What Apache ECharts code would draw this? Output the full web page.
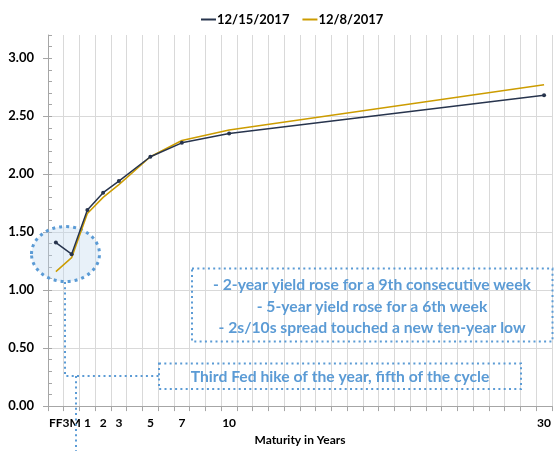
<!DOCTYPE html>
<html>
<head>
<meta charset="utf-8">
<script src="https://cdn.jsdelivr.net/npm/echarts@6/dist/echarts.min.js"></script>
<style>
html,body{margin:0;padding:0;background:#fff;}
#chart{width:554px;height:451px;}
</style>
</head>
<body>
<div id="chart"></div>
<script>
// Category slots along the x axis (one slot per year after FF and 3M)
const categories = ['FF','3M','1','2','3','4','5','6','7','8','9','10','11','12','13','14','15','16','17','18','19','20','21','22','23','24','25','26','27','28','29','30'];
const shownLabels = ['FF','3M','1','2','3','5','7','10','30'];
// Observed maturities and yields
const maturities = ['FF','3M','1','2','3','5','7','10','30'];
const yields_2017_12_15 = [1.41, 1.31, 1.69, 1.84, 1.94, 2.15, 2.27, 2.35, 2.68];
const yields_2017_12_08 = [1.16, 1.28, 1.66, 1.80, 1.91, 2.15, 2.29, 2.38, 2.77];
const seriesNames = ['12/15/2017', '12/8/2017'];
const yTickLabels = [0, 0.5, 1.0, 1.5, 2.0, 2.5, 3.0];
const annotationLines = [
  '- 2-year yield rose for a 9th consecutive week',
  '- 5-year yield rose for a 6th week',
  '- 2s/10s spread touched a new ten-year low'
];
const annotationFed = 'Third Fed hike of the year, fifth of the cycle';

function toSlots(vals) {
  const out = categories.map(() => null);
  maturities.forEach((m, i) => { out[categories.indexOf(m)] = vals[i]; });
  return out;
}

const FONT = 'Lato, "Liberation Sans", sans-serif';
const BLUE = '#5b9bd5';
const dotted = { stroke: BLUE, lineWidth: 2, lineDash: [2, 3.3] };
function txt(x, y, s) {
  return { type: 'text', z: 5, x: x, y: y,
    style: { text: s, fill: BLUE, fontFamily: FONT, fontWeight: 'bold', fontSize: 15.7, align: 'center', verticalAlign: 'middle' } };
}

const chart = echarts.init(document.getElementById('chart'), null, { renderer: 'canvas' });
chart.setOption({
  animation: false,
  backgroundColor: '#ffffff',
  textStyle: { fontFamily: FONT },
  legend: {
    left: 196, top: 8,
    itemGap: 13, itemWidth: 15, itemHeight: 2,
    icon: 'rect',
    textStyle: { fontFamily: FONT, fontWeight: 'bold', fontSize: 13, color: '#000', padding: [0, 0, 0, -4] },
    data: seriesNames
  },
  grid: { left: 48, right: 0, top: 35, bottom: 44, containLabel: false },
  xAxis: {
    type: 'category',
    data: categories,
    boundaryGap: true,
    name: 'Maturity in Years',
    nameLocation: 'middle',
    nameGap: 27,
    nameTextStyle: { fontFamily: FONT, fontWeight: 'bold', fontSize: 12, color: '#000' },
    axisLine: { lineStyle: { color: '#a6a6a6', width: 1 } },
    axisTick: { show: true, interval: 0, length: 5, lineStyle: { color: '#a6a6a6' } },
    axisLabel: {
      interval: 0, margin: 11,
      fontFamily: FONT, fontWeight: 'bold', fontSize: 12, color: '#000',
      formatter: v => shownLabels.includes(v) ? v : ''
    },
    splitLine: { show: true, interval: 0, lineStyle: { color: '#d9d9d9', width: 1 } }
  },
  yAxis: [{
    type: 'value', min: 0, max: 3.2, interval: 0.5,
    axisLine: { show: true, lineStyle: { color: '#a6a6a6' } },
    axisTick: { show: true, length: 5, lineStyle: { color: '#a6a6a6' }, customValues: yTickLabels },
    axisLabel: {
      margin: 14, fontFamily: FONT, fontWeight: 'bold', fontSize: 13, color: '#000',
      customValues: yTickLabels,
      formatter: v => v.toFixed(2)
    },
    splitLine: { show: true, showMaxLine: false, lineStyle: { color: '#d9d9d9', width: 1 } }
  }, {
    type: 'value', min: 0, max: 3.2, interval: 0.1, position: 'left',
    axisLine: { show: false },
    axisTick: { show: true, inside: true, length: 4, lineStyle: { color: '#a6a6a6' } },
    axisLabel: { show: false },
    splitLine: { show: false }
  }],
  series: [{
    name: seriesNames[0],
    type: 'line',
    data: toSlots(yields_2017_12_15),
    connectNulls: true,
    symbol: 'circle', symbolSize: 4, showSymbol: true,
    itemStyle: { color: '#27344d' },
    lineStyle: { color: '#27344d', width: 1.5 },
    z: 3
  }, {
    name: seriesNames[1],
    type: 'line',
    data: toSlots(yields_2017_12_08),
    connectNulls: true,
    symbol: 'none',
    itemStyle: { color: '#cc9c00' },
    lineStyle: { color: '#cc9c00', width: 1.5 },
    z: 2
  }],
  graphic: [
    { type: 'ellipse', z: 1, shape: { cx: 65.5, cy: 254, rx: 34, ry: 27.5 },
      style: { fill: 'rgba(189,215,238,0.35)', stroke: BLUE, lineWidth: 3, lineDash: [3, 4] } },
    { type: 'polyline', z: 1, shape: { points: [[65, 282], [65, 376], [159, 376]] },
      style: Object.assign({ fill: null }, dotted) },
    { type: 'line', z: 1, shape: { x1: 76, y1: 376, x2: 76, y2: 451 },
      style: Object.assign({}, dotted) },
    { type: 'rect', z: 1, shape: { x: 192, y: 268.5, width: 360.5, height: 73 },
      style: Object.assign({ fill: null }, dotted) },
    txt(372, 285, annotationLines[0]),
    txt(372, 306.5, annotationLines[1]),
    txt(372, 328, annotationLines[2]),
    { type: 'rect', z: 1, shape: { x: 159, y: 363.5, width: 362, height: 25.5 },
      style: Object.assign({ fill: null }, dotted) },
    txt(340, 376.5, annotationFed)
  ]
});
</script>
</body>
</html>
